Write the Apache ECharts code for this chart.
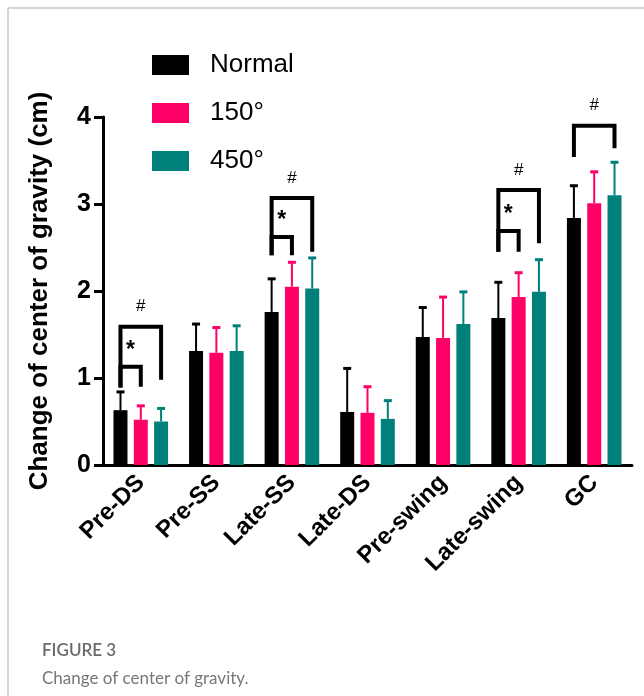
<!DOCTYPE html>
<html>
<head>
<meta charset="utf-8">
<script src="https://cdn.jsdelivr.net/npm/echarts@6/dist/echarts.min.js"></script>
<style>html,body{margin:0;padding:0;background:#fff;}#c{width:644px;height:696px;}</style>
</head>
<body>
<div id="c"></div>
<script>
const categories = ['Pre-DS','Pre-SS','Late-SS','Late-DS','Pre-swing','Late-swing','GC'];
const groups = ['Normal','150°','450°'];
const yTicks = [0,1,2,3,4];
const normalMean  = [0.63,1.31,1.76,0.61,1.47,1.69,2.84];
const normalUpper = [0.84,1.62,2.14,1.11,1.81,2.10,3.21];
const deg150Mean  = [0.52,1.29,2.05,0.60,1.46,1.93,3.01];
const deg150Upper = [0.68,1.58,2.33,0.90,1.93,2.21,3.37];
const deg450Mean  = [0.50,1.31,2.03,0.53,1.62,1.99,3.10];
const deg450Upper = [0.65,1.60,2.38,0.74,1.99,2.36,3.48];
// [category index, from group, to group, bracket top, from-leg bottom, to-leg bottom, mark]
const brackets = [
  [0,0,2,1.59,0.89,0.98,'#'],
  [0,0,1,1.13,0.89,0.90,'*'],
  [2,0,2,3.07,2.41,2.45,'#'],
  [2,0,1,2.62,2.41,2.41,'*'],
  [5,0,2,3.16,2.45,2.55,'#'],
  [5,0,1,2.69,2.45,2.45,'*'],
  [6,0,2,3.90,3.54,3.64,'#']
];

const colors = ['#000000','#FF0066','#00807A'];
const means = [normalMean, deg150Mean, deg450Mean];
const uppers = [normalUpper, deg150Upper, deg450Upper];
const BAR_W = 14, SLOT = 20.3;
const FONT = 'Liberation Sans, Arial, sans-serif';

const chart = echarts.init(document.getElementById('c'), null, {renderer:'canvas'});

const series = [];
groups.forEach((g, gi) => {
  series.push({
    name: g, type: 'bar', data: means[gi], barWidth: BAR_W, barGap: '45%',
    itemStyle: {color: colors[gi]}, z: 2
  });
});
groups.forEach((g, gi) => {
  series.push({
    type: 'custom', name: 'err' + gi, z: 3, clip: false,
    data: categories.map((c, i) => [i, means[gi][i], uppers[gi][i]]),
    encode: {x: 0, y: 2},
    renderItem: function (params, api) {
      const cat = api.value(0);
      const pMean = api.coord([cat, api.value(1)]);
      const pTop = api.coord([cat, api.value(2)]);
      const x = pMean[0] + (gi - 1) * SLOT;
      return {
        type: 'group',
        children: [
          {type: 'line', shape: {x1: x, y1: pMean[1], x2: x, y2: pTop[1]}, style: {stroke: colors[gi], lineWidth: 2}},
          {type: 'line', shape: {x1: x - 4, y1: pTop[1], x2: x + 4, y2: pTop[1]}, style: {stroke: colors[gi], lineWidth: 3}}
        ]
      };
    }
  });
});
series.push({
  type: 'custom', name: 'sig', z: 4, clip: false,
  data: brackets.map(b => [b[0], b[1], b[2], b[3], b[4], b[5]]),
  encode: {x: 0, y: 3},
  renderItem: function (params, api) {
    const b = brackets[params.dataIndex];
    const cat = api.value(0);
    const top = api.coord([cat, api.value(3)]);
    const lb = api.coord([cat, api.value(4)]);
    const rb = api.coord([cat, api.value(5)]);
    const xl = top[0] + (api.value(1) - 1) * SLOT;
    const xr = top[0] + (api.value(2) - 1) * SLOT;
    const mark = b[6];
    const txt = mark === '#'
      ? {type: 'text', style: {text: '#', x: (xl + xr) / 2, y: top[1] - 20, align: 'center', verticalAlign: 'middle', font: '17px ' + FONT, fill: '#000'}}
      : {type: 'text', style: {text: '*', x: xl + 10, y: top[1] - 16, align: 'center', verticalAlign: 'middle', font: 'bold 23px ' + FONT, fill: '#000'}};
    return {
      type: 'group',
      children: [
        {type: 'polyline', shape: {points: [[xl, lb[1]], [xl, top[1]], [xr, top[1]], [xr, rb[1]]]},
         style: {stroke: '#000', lineWidth: 4, fill: null, lineJoin: 'miter'}},
        txt
      ]
    };
  }
});

chart.setOption({
  animation: false,
  backgroundColor: '#fff',
  grid: {left: 103, right: 12, top: 117, bottom: 231, containLabel: false},
  legend: {
    data: groups, orient: 'vertical', left: 152, top: 52, padding: 0,
    itemWidth: 37, itemHeight: 20, itemGap: 22, icon: 'rect',
    textStyle: {fontSize: 26, color: '#000', fontFamily: FONT, padding: [0, 0, 0, 16]}
  },
  xAxis: {
    type: 'category', data: categories, boundaryGap: true,
    axisLine: {lineStyle: {color: '#000', width: 3}},
    axisTick: {alignWithLabel: true, length: 10, lineStyle: {color: '#000', width: 3}},
    axisLabel: {rotate: 45, fontSize: 24, fontWeight: 'bold', color: '#000', fontFamily: FONT, margin: 14, interval: 0}
  },
  yAxis: {
    type: 'value', min: yTicks[0], max: yTicks[yTicks.length - 1], interval: 1,
    name: 'Change of center of gravity (cm)', nameLocation: 'middle', nameGap: 50,
    nameTextStyle: {fontSize: 26, fontWeight: 'bold', color: '#000', fontFamily: FONT},
    axisLine: {show: true, lineStyle: {color: '#000', width: 3}},
    axisTick: {show: true, length: 9, lineStyle: {color: '#000', width: 3}},
    splitLine: {show: false},
    axisLabel: {fontSize: 25, fontWeight: 'bold', color: '#000', fontFamily: FONT, margin: 12}
  },
  graphic: [
    {type: 'line', shape: {x1: 8, y1: 8, x2: 644, y2: 8}, style: {stroke: '#c8c8c8', lineWidth: 1.5}},
    {type: 'line', shape: {x1: 8, y1: 8, x2: 8, y2: 696}, style: {stroke: '#c8c8c8', lineWidth: 1.5}},
    {type: 'text', left: 42, top: 642, style: {text: 'FIGURE 3', font: '600 17px Lato, "Open Sans", sans-serif', fill: '#6b6b6b'}},
    {type: 'text', left: 42, top: 670, style: {text: 'Change of center of gravity.', font: '17px Lato, "Open Sans", sans-serif', fill: '#777777'}}
  ],
  series: series
});
</script>
</body>
</html>
